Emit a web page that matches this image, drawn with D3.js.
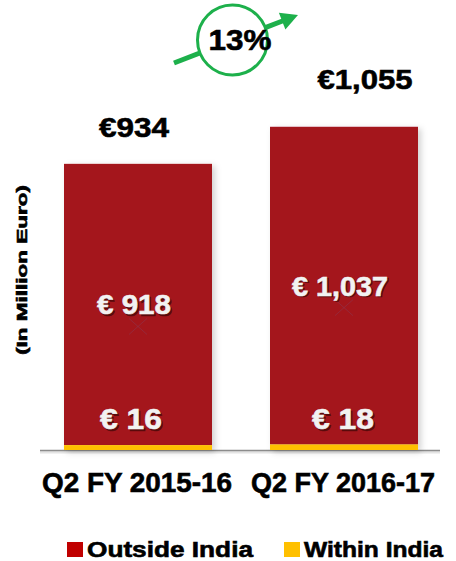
<!DOCTYPE html>
<html>
<head>
<meta charset="utf-8">
<script src="https://cdn.jsdelivr.net/npm/d3@7"></script>
<style>
  html, body { margin: 0; padding: 0; background: #fff; }
  svg { display: block; font-family: "Liberation Sans", Arial, sans-serif; font-weight: bold; }
</style>
</head>
<body>
<div id="chart"></div>
<script>
// data
const periods = ['Q2 FY 2015-16', 'Q2 FY 2016-17']
const withinIndia = [16, 18]
const outsideIndia = [918, 1037]
const totals = [934, 1055]
const growthLabel = '13%'
const seriesNames = ['Outside India', 'Within India']

document.addEventListener('DOMContentLoaded', () => {
  const W = 456, H = 561
  const red = '#a4191e', yellow = '#ffc000', legendRed = '#c00000', green = '#1db04b'

  const svg = d3.select('#chart').append('svg')
    .attr('width', W).attr('height', H)

  const defs = svg.append('defs')
  const f = defs.append('filter').attr('id', 'shd').attr('x', '-10%').attr('y', '-10%').attr('width', '130%').attr('height', '130%')
  f.append('feDropShadow').attr('dx', 3).attr('dy', 2).attr('stdDeviation', 3)
    .attr('flood-color', '#000').attr('flood-opacity', 0.18)

  // heavier bold text, stretched to the widths seen in the picture
  const txt = (sel, s, w, col) => sel.text(s).attr('fill', col).attr('stroke', col).attr('stroke-width', 0.6)
    .attr('textLength', w).attr('lengthAdjust', 'spacingAndGlyphs')

  const x = d3.scaleBand().domain(periods).range([35, 447]).paddingInner(0.2816).paddingOuter(0.1408)
  const y = d3.scaleLinear().domain([0, 1100]).range([450, 113])

  // axis line
  svg.append('line').attr('x1', 40).attr('x2', 440).attr('y1', y(0) + 2).attr('y2', y(0) + 2)
    .attr('stroke', '#e4e4e4').attr('stroke-width', 3)
  const xAxis = svg.append('g').attr('transform', `translate(0,${y(0) + 0.5})`)
    .call(d3.axisBottom(x).tickSize(0).tickPadding(0))
  xAxis.select('.domain').attr('d', 'M40,0H440').attr('stroke', '#8c8c8c').attr('stroke-width', 1.5)
  xAxis.selectAll('.tick text').remove()

  const rows = periods.map((p, i) => ({ p, inside: withinIndia[i], outside: outsideIndia[i], total: totals[i] }))

  const bars = svg.append('g').attr('filter', 'url(#shd)')
  bars.selectAll('rect.out').data(rows).join('rect')
    .attr('class', 'out')
    .attr('x', d => x(d.p)).attr('width', x.bandwidth())
    .attr('y', d => y(d.inside + d.outside)).attr('height', d => y(d.inside) - y(d.inside + d.outside))
    .attr('fill', red)
  bars.selectAll('rect.in').data(rows).join('rect')
    .attr('class', 'in')
    .attr('x', d => x(d.p)).attr('width', x.bandwidth())
    .attr('y', d => y(d.inside)).attr('height', d => y(0) - y(d.inside))
    .attr('fill', yellow)

  // faint crosses in the middle of the bars
  rows.forEach(d => {
    const cx = x(d.p) + x.bandwidth() / 2
    const cy = (y(d.inside) + y(d.inside + d.outside)) / 2 + 22
    svg.append('path').attr('d', `M${cx - 9},${cy - 8}L${cx + 9},${cy + 8}M${cx - 9},${cy + 8}L${cx + 9},${cy - 8}`)
      .attr('stroke', '#8a3a55').attr('stroke-opacity', 0.5).attr('stroke-width', 1)
  })

  // white labels inside bars
  const inner = (s, cx, by, size, w) => {
    svg.append('text').attr('x', cx + 1.5).attr('y', by + 1.5).attr('text-anchor', 'middle')
      .attr('font-size', size).attr('fill-opacity', 0.8).attr('stroke-opacity', 0.8)
      .call(txt, s, w, '#4a0808')
    svg.append('text').attr('x', cx).attr('y', by).attr('text-anchor', 'middle')
      .attr('font-size', size).call(txt, s, w, '#f2f2f2')
  }
  const midDx = [-4, -4], botDx = [-7, -1]
  rows.forEach((d, i) => {
    const cx = x(d.p) + x.bandwidth() / 2
    const mid = (y(d.inside) + y(d.inside + d.outside)) / 2
    const s1 = '€ ' + d3.format(',')(d.outside), s2 = '€ ' + d3.format(',')(d.inside)
    inner(s1, cx + midDx[i], mid + 10, 28, s1.length > 5 ? 96 : 74)
    inner(s2, cx + botDx[i], y(0) - 21, 30, 62)
  })

  // totals above bars
  const lift = [27, 38], totDx = [-4, 21], totW = [70, 95]
  rows.forEach((d, i) => {
    svg.append('text').attr('x', x(d.p) + x.bandwidth() / 2 + totDx[i]).attr('y', y(d.total) - lift[i])
      .attr('text-anchor', 'middle').attr('font-size', 28)
      .call(txt, '€' + d3.format(',')(d.total), totW[i], '#000')
  })

  // category labels
  const catW = [190, 184]
  rows.forEach((d, i) => {
    svg.append('text').attr('x', x(d.p) + x.bandwidth() / 2 - 1).attr('y', 492)
      .attr('text-anchor', 'middle').attr('font-size', 27).call(txt, d.p, catW[i], '#000')
  })

  // y label
  svg.append('text').attr('transform', 'translate(27,270) rotate(-90)')
    .attr('text-anchor', 'middle').attr('font-size', 14).call(txt, '(In Million Euro)', 170, '#000')

  // growth arrow + circle
  const s = [174, 63], tip = [298, 15]
  const dx = tip[0] - s[0], dy = tip[1] - s[1], len = Math.hypot(dx, dy)
  const ux = dx / len, uy = dy / len, hl = 17, hw = 9
  const bx = tip[0] - ux * hl, by = tip[1] - uy * hl
  svg.append('line').attr('x1', s[0]).attr('y1', s[1]).attr('x2', bx + ux).attr('y2', by + uy)
    .attr('stroke', green).attr('stroke-width', 5)
  svg.append('path')
    .attr('d', `M${tip[0]},${tip[1]}L${bx - uy * hw},${by + ux * hw}L${bx + uy * hw},${by - ux * hw}Z`)
    .attr('fill', green)
  svg.append('circle').attr('cx', 232.5).attr('cy', 40).attr('r', 35)
    .attr('fill', '#fff').attr('stroke', green).attr('stroke-width', 3)
  svg.append('text').attr('x', 240).attr('y', 50).attr('text-anchor', 'middle')
    .attr('font-size', 30).call(txt, growthLabel, 63, '#000')

  // legend
  const lg = [{ n: seriesNames[0], c: legendRed, x: 67, w: 166 }, { n: seriesNames[1], c: yellow, x: 284, w: 139 }]
  lg.forEach(l => {
    svg.append('rect').attr('x', l.x).attr('y', 542).attr('width', 16).attr('height', 15).attr('fill', l.c)
    svg.append('text').attr('x', l.x + 20).attr('y', 557).attr('font-size', 22).call(txt, l.n, l.w, '#000')
  })
})
</script>
</body>
</html>
